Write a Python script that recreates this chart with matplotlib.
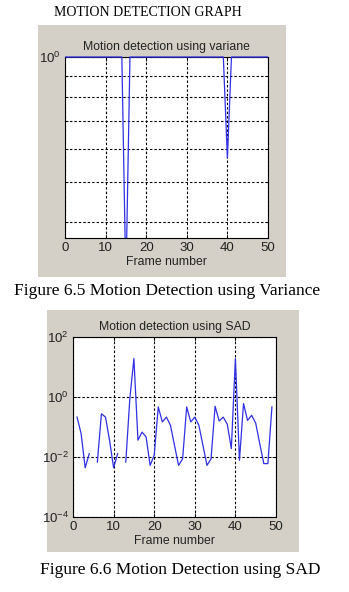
import matplotlib
matplotlib.use('Agg')

import matplotlib.pyplot as plt
from matplotlib.patches import Rectangle
from matplotlib.ticker import FixedLocator, NullFormatter, NullLocator, LogFormatterMathtext
from matplotlib.transforms import Bbox, TransformedBbox

# variance based detection (normalised, 1 = no motion)
var_frames = list(range(0, 51))
var_values = [1, 1, 1, 1, 1, 1, 1, 1, 1, 1,
              1, 1, 1, 1, 1, 0.285, 1, 1, 1, 1,
              1, 1, 1, 1, 1, 1, 1, 1, 1, 1,
              1, 1, 1, 1, 1, 1, 1, 1, 1, 1,
              0.57, 1, 1, 1, 1, 1, 1, 1, 1, 1,
              1]

# SAD based detection, log10 of the value (nan = zero, not drawn on log axis)
nan = float('nan')
sad_frames = list(range(1, 50))
sad_log = [-0.67, -1.22, -2.36, -1.89, nan, -2.17, -0.56, -0.67, -1.44, -2.36,
           -1.89, nan, -2.17, -0.05, 1.28, -1.44, -1.17, -1.33, -2.28, -1.94,
           -0.33, -0.83, -0.67, -0.94, -1.61, -2.28, -2.06, -0.33, -0.83, -0.67,
           -0.94, -1.61, -2.28, -2.06, -0.31, -0.80, -0.67, -0.91, -1.72, 1.28,
           -2.11, -0.22, -0.78, -0.61, -0.87, -1.56, -2.22, -2.22, -0.33]
sad_values = [10 ** v for v in sad_log]

xticks = [0, 10, 20, 30, 40, 50]

panel = '#d4d0c8'
blue = '#3030e4'
W, H = 349, 592

fig = plt.figure(figsize=(W / 100, H / 100), dpi=100)
fig.patch.set_facecolor('white')
plt.rcParams['font.family'] = ['Liberation Sans', 'DejaVu Sans']
plt.rcParams['mathtext.fontset'] = 'custom'
plt.rcParams['mathtext.rm'] = 'Liberation Sans'
plt.rcParams['mathtext.it'] = 'Liberation Sans'


def box(x0, y0, x1, y1):
    # pixel box (top-left origin) -> figure fraction rect
    return [x0 / W, 1 - y1 / H, (x1 - x0) / W, (y1 - y0) / H]


def grey_panel(x0, y0, x1, y1):
    l, b, w, h = box(x0, y0, x1, y1)
    fig.patches.append(Rectangle((l, b), w, h, transform=fig.transFigure,
                                 facecolor=panel, edgecolor='none', zorder=-10))


def style(ax):
    ax.set_facecolor('white')
    ax.set_xlim(0, 50)
    ax.xaxis.set_major_locator(FixedLocator(xticks))
    ax.tick_params(which='both', direction='in', top=True, right=True,
                   labelsize=9.5, pad=3, width=0.6, color='black',
                   labelcolor='#222222')
    ax.tick_params(which='major', length=3)
    ax.tick_params(which='minor', length=2)
    for s in ax.spines.values():
        s.set_linewidth(0.8)
    ax.set_xlabel('Frame number', fontsize=8.8, labelpad=1, color='#222222')


serif = ['Liberation Serif', 'DejaVu Serif']
dash = (0, (2.2, 1.8))

fig.text(148 / W, 1 - 13 / H, 'MOTION DETECTION GRAPH', family=serif,
         fontsize=10, ha='center', va='center')

# ---- variance plot ----
grey_panel(38, 25, 286, 277)
ax1 = fig.add_axes(box(65, 57, 268, 238))
style(ax1)
ax1.set_yscale('log')
ax1.set_ylim(0.366, 1.0)
ax1.yaxis.set_major_locator(FixedLocator([1.0]))
ax1.yaxis.set_minor_locator(FixedLocator([0.4, 0.5, 0.6, 0.7, 0.8, 0.9]))
ax1.yaxis.set_major_formatter(LogFormatterMathtext())
ax1.yaxis.set_minor_formatter(NullFormatter())
ax1.grid(True, axis='x', which='major', color='black', linestyle=dash, lw=0.8)
ax1.grid(True, axis='y', which='both', color='black', linestyle=dash, lw=0.8)
ln, = ax1.plot(var_frames, var_values, color=blue, lw=0.9, zorder=3)
ln.set_clip_box(TransformedBbox(Bbox([[0, 0], [1, 1.02]]), ax1.transAxes))
ax1.set_title('Motion detection using variane', fontsize=8.8, pad=5, color='#222222')

fig.text(167 / W, 1 - 291 / H, 'Figure 6.5 Motion Detection using Variance',
         family=serif, fontsize=12.5, ha='center', va='center')

# ---- SAD plot ----
grey_panel(47, 310, 299, 552)
ax2 = fig.add_axes(box(73, 337, 276, 517))
style(ax2)
ax2.set_yscale('log')
ax2.set_ylim(1e-4, 1e2)
ax2.yaxis.set_major_locator(FixedLocator([1e-4, 1e-2, 1e0, 1e2]))
ax2.yaxis.set_minor_locator(NullLocator())
ax2.yaxis.set_major_formatter(LogFormatterMathtext())
ax2.grid(True, which='major', color='black', linestyle=dash, lw=0.8)
ax2.plot(sad_frames, sad_values, color=blue, lw=0.9, zorder=3)
ax2.set_title('Motion detection using SAD', fontsize=8.8, pad=5, color='#222222')

fig.text(180 / W, 1 - 570 / H, 'Figure 6.6 Motion Detection using SAD',
         family=serif, fontsize=12.5, ha='center', va='center')

fig.savefig('out.png', dpi=100, facecolor='white')
